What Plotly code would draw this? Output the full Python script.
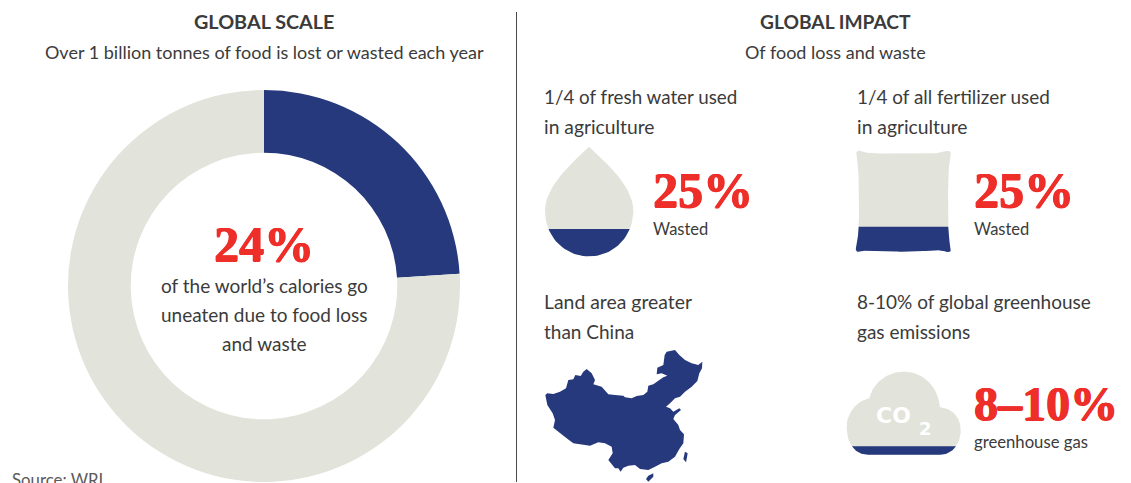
import numpy as np
import plotly.graph_objects as go

# Share of the world's calories lost or wasted, and the remainder
calorie_labels = ["Lost or wasted", "Eaten"]
calorie_shares = [24, 76]

# Wasted share shown as the dark level inside each icon
fresh_water_wasted = 25
fertilizer_wasted = 25
emissions_wasted_upper = 10

NAVY = "#25397c"
STONE = "#e2e3da"
RED = "#ee2e29"
INK = "#3b3b3b"
BODY_FONT = "Lato"
BIG_FONT = "Liberation Serif"
THICKEN = f"0.8px 0 0 {RED}, -0.6px 0 0 {RED}, 0 0.5px 0 {RED}"

W, H = 1131, 483


def bezier_path(start, segments, steps=24):
    """Sample a chain of cubic Bezier segments into a closed outline."""
    pts = []
    p0 = np.array(start, dtype=float)
    for c1, c2, p3 in segments:
        c1, c2, p3 = np.array(c1, float), np.array(c2, float), np.array(p3, float)
        for t in np.linspace(0, 1, steps, endpoint=False):
            pts.append((1 - t) ** 3 * p0 + 3 * (1 - t) ** 2 * t * c1 + 3 * (1 - t) * t ** 2 * c2 + t ** 3 * p3)
        p0 = p3
    return pts


def below_level(outline, level_y):
    """Part of a closed outline lying under a horizontal level (screen y grows downward)."""
    outline = np.array(outline)
    out = []
    n = len(outline)
    for i in range(n):
        a, b = outline[i], outline[(i + 1) % n]
        a_in, b_in = a[1] >= level_y, b[1] >= level_y
        if a_in:
            out.append(a)
        if a_in != b_in:
            t = (level_y - a[1]) / (b[1] - a[1])
            out.append(a + t * (b - a))
    return np.array(out)


def place(points, dx, dy):
    return [(x / 3 + dx, y / 3 + dy) for x, y in points]


drop_start = (177, 20)
drop_curves = [((205, 50), (310, 130), (310, 212)), ((310, 290), (250, 349), (177, 349)),
               ((104, 349), (45, 290), (45, 212)), ((45, 130), (149, 50), (177, 20))]

pillow_start = (62, 33)
pillow_curves = [((78, 40), (105, 43), (190, 39)), ((275, 43), (300, 40), (318, 33)),
                 ((328, 30), (335, 36), (332, 46)), ((325, 75), (324, 120), (324, 210)),
                 ((324, 260), (325, 295), (332, 323)), ((336, 334), (328, 339), (318, 335)),
                 ((298, 326), (260, 335), (190, 335)), ((120, 335), (88, 326), (62, 335)),
                 ((52, 339), (45, 333), (48, 322)), ((55, 295), (57, 260), (57, 210)),
                 ((57, 120), (56, 75), (49, 46)), ((46, 36), (52, 29), (62, 33))]

cloud_start = (85, 254)
cloud_curves = [((40, 254), (20, 215), (20, 170)), ((20, 130), (50, 92), (88, 85)),
                ((100, 35), (145, 5), (190, 5)), ((250, 5), (295, 50), (300, 112)),
                ((340, 115), (362, 145), (362, 180)), ((362, 225), (335, 254), (300, 254)),
                ((230, 254), (150, 254), (85, 254))]

# China outline, west half and east half traced on separate grids
china_west_north = [(16, 150), (22, 145), (40, 147), (60, 140), (78, 130), (85, 105), (100, 103), (106, 90),
                    (122, 93), (130, 80), (140, 72), (155, 85), (165, 105), (160, 118), (185, 125), (195, 138),
                    (205, 148), (225, 150), (250, 152)]
china_east = [(15, 157), (35, 160), (50, 153), (70, 150), (82, 140), (85, 122), (100, 118), (115, 108), (130, 97),
              (142, 92), (125, 85), (110, 88), (112, 68), (130, 60), (134, 30), (140, 20), (165, 15), (178, 30),
              (195, 45), (215, 55), (235, 60), (247, 50), (246, 70), (238, 85), (232, 108), (215, 125), (195, 140),
              (180, 155), (170, 157), (165, 160), (150, 175), (138, 185), (150, 190), (160, 200), (178, 190),
              (183, 195), (165, 210), (160, 222), (175, 240), (180, 255), (192, 268), (190, 295), (178, 312),
              (165, 335), (145, 350), (125, 355), (105, 365), (85, 375), (60, 372), (45, 360), (25, 362), (10, 368),
              (2, 380), (-5, 370)]
china_west_south = [(225, 370), (205, 345), (218, 325), (215, 305), (195, 295), (175, 292), (150, 302), (125, 298),
                    (100, 295), (80, 280), (60, 265), (40, 248), (45, 225), (38, 205), (22, 180), (18, 160)]
china_taiwan = [(195, 320), (203, 325), (198, 352), (190, 342)]
china_hainan = [(85, 392), (100, 385), (100, 395), (85, 410), (78, 402)]

fig = go.Figure()


def add_area(points, color):
    pts = np.array(points)
    fig.add_trace(go.Scatter(x=np.r_[pts[:, 0], pts[0, 0]], y=np.r_[pts[:, 1], pts[0, 1]],
                             mode="lines", fill="toself", fillcolor=color,
                             line=dict(width=0, color=color), hoverinfo="skip", showlegend=False))


def add_level_icon(start, curves, dx, dy, share):
    """Stone silhouette with its lower `share` percent of height in navy."""
    outline = np.array(place(bezier_path(start, curves), dx, dy))
    top, bottom = outline[:, 1].min(), outline[:, 1].max()
    add_area(outline, STONE)
    add_area(below_level(outline, bottom - (bottom - top) * share / 100), NAVY)


add_level_icon(drop_start, drop_curves, 530, 140, fresh_water_wasted)
add_level_icon(pillow_start, pillow_curves, 840, 140, fertilizer_wasted)
add_level_icon(cloud_start, cloud_curves, 840, 370, emissions_wasted_upper)

mainland = place(china_west_north, 540, 345) + place(china_east, 620, 345) + place(china_west_south, 540, 345)
add_area(mainland, NAVY)
add_area(place(china_taiwan, 620, 345), NAVY)
add_area(place(china_hainan, 620, 345), NAVY)

fig.add_trace(go.Pie(labels=calorie_labels, values=calorie_shares, hole=0.68, sort=False,
                     direction="clockwise", rotation=0, textinfo="none", hoverinfo="skip",
                     marker=dict(colors=[NAVY, STONE], line=dict(width=0)),
                     domain=dict(x=[68 / W, 460 / W], y=[1 - 482 / H, 1 - 90 / H]), showlegend=False))

# (text, x, y, anchor, size, colour, font)
labels = [
    ("<b>GLOBAL SCALE</b>", 264, 21, "center", 19.8, INK, BODY_FONT),
    ("Over 1 billion tonnes of food is lost or wasted each year", 264, 51.5, "center", 18, INK, BODY_FONT),
    ("<b>GLOBAL IMPACT</b>", 835, 21, "center", 19.2, INK, BODY_FONT),
    ("Of food loss and waste", 835, 51.5, "center", 18, INK, BODY_FONT),
    ("<b>24%</b>", 264, 244, "center", 50, RED, BIG_FONT),
    ("of the world’s calories go", 264, 285, "center", 19, INK, BODY_FONT),
    ("uneaten due to food loss", 264, 314, "center", 19, INK, BODY_FONT),
    ("and waste", 264, 343, "center", 19, INK, BODY_FONT),
    ("1/4 of fresh water used", 544, 96, "left", 18.8, INK, BODY_FONT),
    ("in agriculture", 544, 126, "left", 19.3, INK, BODY_FONT),
    ("<b>25%</b>", 653, 190, "left", 50, RED, BIG_FONT),
    ("Wasted", 653, 229, "left", 16.5, INK, BODY_FONT),
    ("1/4 of all fertilizer used", 857, 96, "left", 18.9, INK, BODY_FONT),
    ("in agriculture", 857, 126, "left", 19.3, INK, BODY_FONT),
    ("<b>25%</b>", 974, 190, "left", 50, RED, BIG_FONT),
    ("Wasted", 974, 229, "left", 16.5, INK, BODY_FONT),
    ("Land area greater", 544, 301, "left", 19.4, INK, BODY_FONT),
    ("than China", 544, 331, "left", 19, INK, BODY_FONT),
    ("8-10% of global greenhouse", 857, 301, "left", 19, INK, BODY_FONT),
    ("gas emissions", 857, 331, "left", 19, INK, BODY_FONT),
    ("<b>8–10%</b>", 974, 403, "left", 48, RED, BIG_FONT),
    ("greenhouse gas", 974, 442, "left", 16.7, INK, BODY_FONT),
    ("Source: WRI", 12, 479, "left", 16.8, "#5a5a5a", BODY_FONT),
    ("<b>CO</b>", 893.5, 415, "center", 22, "#ffffff", "DejaVu Sans"),
    ("<b>2</b>", 925, 428, "center", 18, "#ffffff", "DejaVu Sans"),
]

annotations = []
for text, x, y, anchor, size, color, family in labels:
    font = dict(size=size, color=color, family=family)
    if family == BIG_FONT:
        font["shadow"] = THICKEN
    annotations.append(dict(text=text, x=x, y=y, xref="x", yref="y", xanchor=anchor, yanchor="middle",
                            showarrow=False, font=font, borderpad=0, borderwidth=0))

fig.update_layout(
    width=W, height=H, margin=dict(l=0, r=0, t=0, b=0), paper_bgcolor="white", plot_bgcolor="white",
    xaxis=dict(range=[0, W], visible=False, fixedrange=True),
    yaxis=dict(range=[H, 0], visible=False, fixedrange=True),
    annotations=annotations,
    shapes=[dict(type="line", xref="x", yref="y", x0=516.5, x1=516.5, y0=12, y1=482,
                 line=dict(color="#4a4a4a", width=1))],
)

fig.write_html("out.html", config=dict(displayModeBar=False))
